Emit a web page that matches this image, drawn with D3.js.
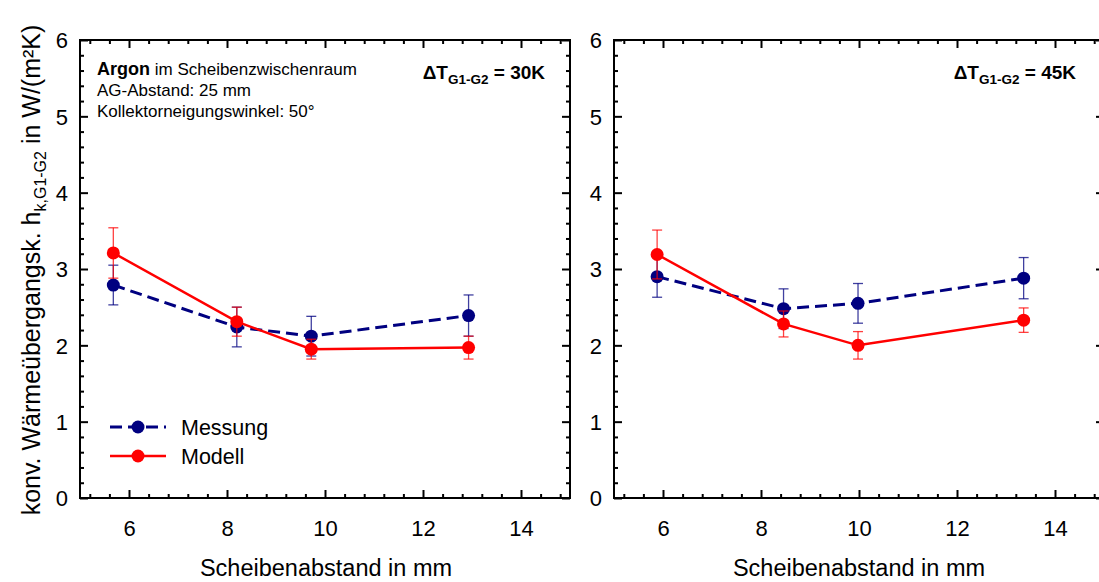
<!DOCTYPE html>
<html><head><meta charset="utf-8">
<script src="https://cdn.jsdelivr.net/npm/d3@7"></script>
<style>body{margin:0;background:#fff}svg{display:block;font-family:"Liberation Sans",Arial,sans-serif}</style>
</head><body><svg id="c" width="1099" height="582"></svg>
<script>
// ---- data ----
const spacing30 = [5.68, 8.2, 9.72, 12.93];
const mess30 = [2.79, 2.24, 2.12, 2.39];
const messErr30 = [0.26, 0.26, 0.26, 0.27];
const model30 = [3.21, 2.31, 1.95, 1.97];
const modelErr30 = [0.33, 0.19, 0.13, 0.15];

const spacing45 = [5.88, 8.46, 9.98, 13.36];
const mess45 = [2.90, 2.48, 2.55, 2.88];
const messErr45 = [0.27, 0.26, 0.26, 0.27];
const model45 = [3.19, 2.28, 2.00, 2.33];
const modelErr45 = [0.32, 0.17, 0.18, 0.16];

const xTicks = [6, 8, 10, 12, 14];
const yTicks = [0, 1, 2, 3, 4, 5, 6];
const seriesNames = ["Messung", "Modell"];
const panelTitles = ["30K", "45K"];

const svg = d3.select("#c");
const y = d3.scaleLinear().domain([0, 6]).range([498, 40]);
const colors = {Messung: "#000080", Modell: "#ff0000"};

const panels = [
  {xr: [80, 570], sp: spacing30, m: mess30, me: messErr30, o: model30, oe: modelErr30, t: panelTitles[0]},
  {xr: [614, 1104], sp: spacing45, m: mess45, me: messErr45, o: model45, oe: modelErr45, t: panelTitles[1]}
];

const xMinor = d3.range(13, 38).map(i => +(i * 0.4).toFixed(1)).filter(v => !xTicks.includes(v));
const yMinor = d3.range(1, 30).map(i => +(i * 0.2).toFixed(1)).filter(v => !yTicks.includes(v));

panels.forEach((p, pi) => {
  const x = d3.scaleLinear().domain([5, 15]).range(p.xr);
  const g = svg.append("g");
  const [x0, x1] = p.xr, y0 = y(0), y1 = y(6);

  const mk = (axisFn, scale, vals, size, transform, labels) => {
    const a = g.append("g").attr("transform", transform)
      .call(axisFn(scale).tickValues(vals).tickSize(size).tickSizeOuter(0).tickFormat(labels ? d3.format("d") : ""));
    a.select(".domain").remove();
    a.selectAll(".tick line").attr("stroke", "#000").attr("stroke-width", 2);
    a.selectAll("text").attr("font-size", 22).attr("fill", "#000")
      .attr("font-family", "Liberation Sans, Arial, sans-serif");
    return a;
  };
  const xb = mk(d3.axisBottom, x, xTicks, -8, `translate(0,${y0})`, true);
  xb.selectAll("text").attr("dy", "0").attr("y", 38);
  mk(d3.axisBottom, x, xMinor, -4, `translate(0,${y0})`, false);
  mk(d3.axisTop, x, xTicks, -8, `translate(0,${y1})`, false);
  mk(d3.axisTop, x, xMinor, -4, `translate(0,${y1})`, false);
  const yl = mk(d3.axisLeft, y, yTicks, -8, `translate(${x0},0)`, true);
  yl.selectAll("text").attr("x", -12).attr("dy", "0.36em");
  mk(d3.axisLeft, y, yMinor, -4, `translate(${x0},0)`, false);
  mk(d3.axisRight, y, yTicks, -8, `translate(${x1},0)`, false);
  mk(d3.axisRight, y, yMinor, -4, `translate(${x1},0)`, false);

  g.append("rect").attr("x", x0).attr("y", y1).attr("width", x1 - x0).attr("height", y0 - y1)
    .attr("fill", "none").attr("stroke", "#000").attr("stroke-width", 2);

  const series = [
    {name: seriesNames[0], v: p.m, e: p.me, dash: "12,6", w: 3},
    {name: seriesNames[1], v: p.o, e: p.oe, dash: null, w: 2.5}
  ];
  series.forEach(s => {
    const c = colors[s.name];
    const pts = p.sp.map((d, i) => ({x: d, y: s.v[i], e: s.e[i]}));
    const eb = g.append("g").attr("stroke", c).attr("stroke-width", 1.3).attr("stroke-opacity", 0.75);
    pts.forEach(d => {
      eb.append("line").attr("x1", x(d.x)).attr("x2", x(d.x)).attr("y1", y(d.y - d.e)).attr("y2", y(d.y + d.e));
      [d.y - d.e, d.y + d.e].forEach(v => eb.append("line").attr("x1", x(d.x) - 5).attr("x2", x(d.x) + 5).attr("y1", y(v)).attr("y2", y(v)));
    });
    g.append("path").datum(pts).attr("fill", "none").attr("stroke", c).attr("stroke-width", s.w)
      .attr("stroke-dasharray", s.dash).attr("d", d3.line().x(d => x(d.x)).y(d => y(d.y)));
    g.selectAll(null).data(pts).enter().append("circle").attr("cx", d => x(d.x)).attr("cy", d => y(d.y))
      .attr("r", 6.5).attr("fill", c);
  });

  g.append("text").attr("x", pi === 0 ? 326 : 859).attr("y", 576).attr("text-anchor", "middle")
    .attr("font-size", 23.5).text("Scheibenabstand in mm");

  const dt = g.append("text").attr("x", pi === 0 ? 545 : 1076).attr("y", 79).attr("text-anchor", "end")
    .attr("font-size", 19).attr("font-weight", "bold");
  dt.append("tspan").text("ΔT");
  dt.append("tspan").attr("font-size", 13.5).attr("dy", 5).text("G1-G2");
  dt.append("tspan").attr("dy", -5).text(" = " + p.t);
});

const ann = svg.append("g").attr("font-size", 17);
const t1 = ann.append("text").attr("x", 97).attr("y", 75);
t1.append("tspan").attr("font-weight", "bold").attr("font-size", 18).text("Argon");
t1.append("tspan").text(" im Scheibenzwischenraum");
ann.append("text").attr("x", 97).attr("y", 96).text("AG-Abstand: 25 mm");
ann.append("text").attr("x", 97).attr("y", 117).text("Kollektorneigungswinkel: 50°");

const leg = svg.append("g");
[{n: seriesNames[0], yy: 427, dash: "12,6", w: 3}, {n: seriesNames[1], yy: 456, dash: null, w: 2.5}].forEach(l => {
  leg.append("line").attr("x1", 110).attr("x2", 166).attr("y1", l.yy).attr("y2", l.yy)
    .attr("stroke", colors[l.n]).attr("stroke-width", l.w).attr("stroke-dasharray", l.dash);
  leg.append("circle").attr("cx", 138).attr("cy", l.yy).attr("r", 6.5).attr("fill", colors[l.n]);
  leg.append("text").attr("x", 181).attr("y", l.yy + 8).attr("font-size", 21.5).text(l.n);
});

const yt = svg.append("text").attr("transform", "translate(40,270) rotate(-90)").attr("text-anchor", "middle")
  .attr("font-size", 25);
yt.append("tspan").text("konv. Wärmeübergangsk. h");
yt.append("tspan").attr("font-size", 16).attr("dy", 6).text("k,G1-G2");
yt.append("tspan").attr("dy", -6).text(" in W/(m²K)");
</script></body></html>
